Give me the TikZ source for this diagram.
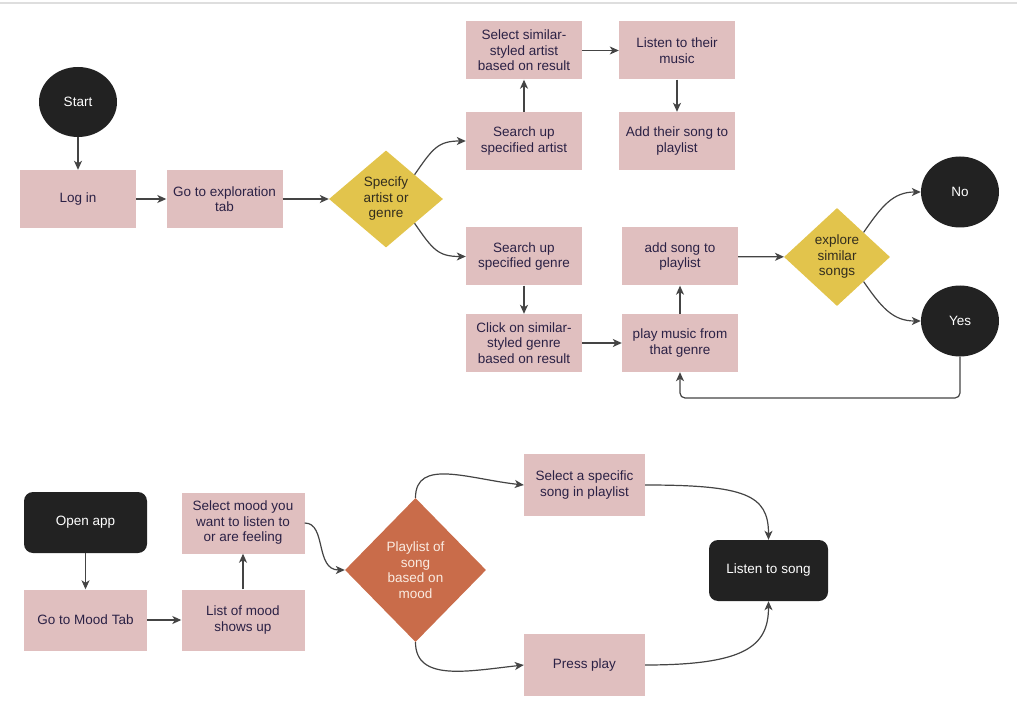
\documentclass[tikz,border=0pt]{standalone}
\usepackage{fontspec}
\setmainfont{Liberation Sans}
\usetikzlibrary{shapes.geometric,arrows.meta}
\definecolor{boxpink}{RGB}{224,191,191}
\definecolor{boxtext}{RGB}{43,33,69}
\definecolor{decyellow}{RGB}{226,196,76}
\definecolor{decorange}{RGB}{201,108,74}
\definecolor{termblack}{RGB}{34,34,34}
\definecolor{linegray}{RGB}{68,68,68}
\begin{document}
\begin{tikzpicture}[x=1pt,y=-1pt,
  every node/.style={font=\fontsize{13.5}{15.5}\selectfont, align=center, inner sep=0pt},
  proc/.style={rectangle, fill=boxpink, text=boxtext, minimum width=116, minimum height=58},
  procwide/.style={rectangle, fill=boxpink, text=boxtext, minimum width=123, minimum height=61},
  decy/.style={diamond, fill=decyellow, text={rgb,255:red,50;green,45;blue,30}},
  deco/.style={diamond, fill=decorange, text={rgb,255:red,250;green,236;blue,226}},
  term/.style={ellipse, fill=termblack, text=white, minimum width=78, minimum height=71},
  termbox/.style={rectangle, rounded corners=9pt, fill=termblack, text=white, minimum width=123, minimum height=61},
  arr/.style={draw=linegray, line width=1.2pt, -{Stealth[length=9pt,width=8pt,inset=2.5pt]}}
]
\useasboundingbox (0,0) rectangle (1017,711);
\draw[line width=2pt, color={rgb,255:red,222;green,222;blue,222}] (0,3) -- (1017,3);

% ---------- top flow ----------
\node[term, minimum width=78, minimum height=70] (start) at (78,102) {Start};
\node[proc] (login) at (78,199) {Log in};
\node[proc] (explore) at (224.5,199) {Go to exploration\\tab};
\node[decy, minimum width=114, minimum height=97] (spec) at (386,199) {Specify\\artist or\\genre};
\node[proc] (artist) at (524,141) {Search up\\specified artist};
\node[proc] (selart) at (524,50.5) {Select similar-\\styled artist\\based on result};
\node[proc] (listen) at (677,50.5) {Listen to their\\music};
\node[proc] (addtheir) at (677,141) {Add their song to\\playlist};
\node[proc] (genre) at (524,256.5) {Search up\\specified genre};
\node[proc] (click) at (524,343) {Click on similar-\\styled genre\\based on result};
\node[proc] (addsong) at (680,256.5) {add song to\\playlist};
\node[proc] (play) at (680,343) {play music from\\that genre};
\node[decy, minimum width=106, minimum height=98] (simq) at (837,257) {explore\\similar\\songs};
\node[term] (no) at (960,192) {No};
\node[term] (yes) at (960,321) {Yes};
\coordinate (loopy) at (0,398);

\draw[arr] (start) -- (login);
\draw[arr] (login) -- (explore);
\draw[arr] (explore) -- (spec);
\draw[arr] (spec.north east) .. controls +(18,-26) and +(-28,0) .. (artist.west);
\draw[arr] (spec.south east) .. controls +(18,26) and +(-28,0) .. (genre.west);
\draw[arr] (artist) -- (selart);
\draw[arr] (selart) -- (listen);
\draw[arr] (listen) -- (addtheir);
\draw[arr] (genre) -- (click);
\draw[arr] (click) -- (play);
\draw[arr] (play) -- (addsong);
\draw[arr] (addsong) -- (simq);
\draw[arr] (simq.north east) .. controls +(18,-26) and +(-28,0) .. (no.west);
\draw[arr] (simq.south east) .. controls +(18,26) and +(-28,0) .. (yes.west);
\draw[arr, rounded corners=5pt] (yes.south) -- (yes.south |- loopy) -- (play.south |- loopy) -- (play.south);

% ---------- bottom flow ----------
\node[termbox] (open) at (85.5,522.5) {Open app};
\node[procwide] (moodtab) at (85.5,620) {Go to Mood Tab};
\node[procwide] (listmood) at (243,620) {List of mood\\shows up};
\node[procwide] (selmood) at (243,523) {Select mood you\\want to listen to\\or are feeling};
\node[deco, minimum width=141, minimum height=144] (pl) at (415.5,570) {Playlist of\\song\\based on\\mood};
\node[procwide, minimum width=121, minimum height=62] (specific) at (584.5,485) {Select a specific\\song in playlist};
\node[procwide, minimum width=121, minimum height=62] (press) at (584.5,665) {Press play};
\node[termbox, minimum width=119, minimum height=61] (lsong) at (768.5,570.5) {Listen to song};

\draw[arr] (open) -- (moodtab);
\draw[arr] (moodtab) -- (listmood);
\draw[arr] (listmood) -- (selmood);
\draw[arr] (selmood.east) .. controls +(22,0) and +(-30,0) .. (pl.west);
\draw[arr] (pl.north) .. controls +(0,-40) and +(-55,-6) .. (specific.west);
\draw[arr] (pl.south) .. controls +(0,40) and +(-55,6) .. (press.west);
\draw[arr] (specific.east) .. controls +(100,0) and +(0,-45) .. (lsong.north);
\draw[arr] (press.east) .. controls +(100,0) and +(0,45) .. (lsong.south);
\end{tikzpicture}
\end{document}
